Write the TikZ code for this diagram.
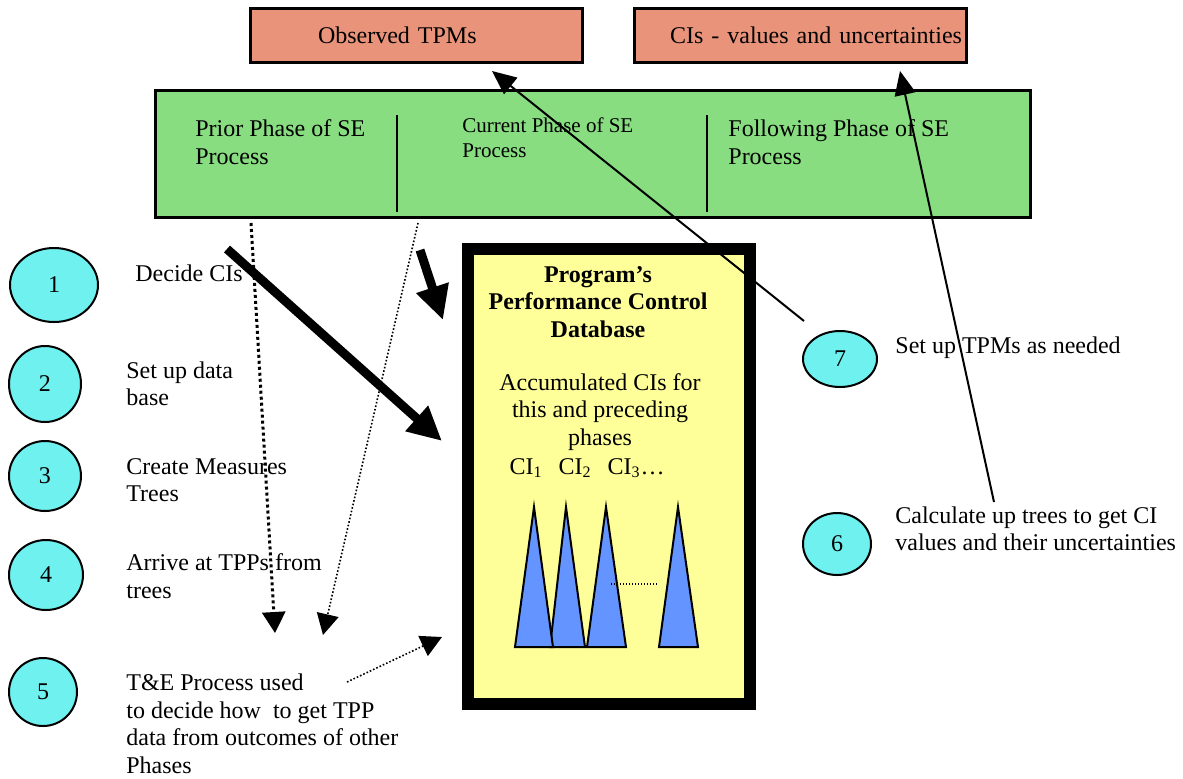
\documentclass[tikz,border=0pt]{standalone}
\usepackage{fontspec}
\setmainfont{Liberation Serif}
\usetikzlibrary{shapes.geometric,arrows.meta}
\definecolor{tpmred}{RGB}{233,148,122}
\definecolor{phasegreen}{RGB}{135,221,128}
\definecolor{dbyellow}{RGB}{255,255,153}
\definecolor{stepcyan}{RGB}{111,241,240}
\definecolor{treeblue}{RGB}{99,148,255}
\tikzset{
  stepnum/.style={ellipse, draw, line width=1pt, fill=stepcyan, inner sep=0pt, font=\fontsize{12}{14}\selectfont},
  note/.style={anchor=west, align=left, inner sep=0pt, font=\fontsize{12}{13.75}\selectfont},
  topbox/.style={draw, line width=1.5pt, fill=tpmred, minimum width=166pt, minimum height=27pt, font=\fontsize{12}{14}\selectfont},
  tree/.style={draw, line width=1pt, fill=treeblue},
  bigarrow/.style={line width=4.5pt, -{Triangle[length=17pt,width=16pt]}},
  thinarrow/.style={line width=1pt, -{Triangle[length=12pt,width=10.5pt]}},
  dotarrow/.style={line width=1.5pt, dash pattern=on 1.5pt off 1.5pt, -{Triangle[length=10.5pt,width=11.5pt]}},
  fineDot/.style={line width=0.8pt, dash pattern=on 0.8pt off 1pt, -{Triangle[length=10.5pt,width=11pt]}}
}
\begin{document}
\begin{tikzpicture}[x=0.5pt, y=-0.5pt]
    \useasboundingbox (0,0) rectangle (1183,778);
    %
    \node[topbox, text width=98pt, inner xsep=34pt, align=left] (obs) at (416,35) {Observed TPMs};
    \node[topbox, text width=162pt, inner xsep=2pt, align=right] (civals) at (800,35) {CIs - values and uncertainties};
    %
    \node[draw, line width=1.5pt, fill=phasegreen, minimum width=437.5pt, minimum height=63.5pt] (phases) at (592.5,153.5) {};
    \draw[line width=0.8pt] (397,115) -- (397,212);
    \draw[line width=0.8pt] (707,115) -- (707,212);
    \node[note] (prior) at (195,142) {Prior Phase of SE\\Process};
    \node[note, font=\fontsize{10.5}{12.5}\selectfont] (current) at (462,138) {Current Phase of SE\\Process};
    \node[note] (following) at (728,142) {Following Phase of SE\\Process};
    %
    \node[draw, line width=6pt, fill=dbyellow, minimum width=141pt, minimum height=227.5pt] (pcdb) at (609,476.5) {};
    \node[align=center, inner sep=0pt, font=\fontsize{12}{13.75}\selectfont\bfseries] (pcdbtitle) at (598,302) {Program’s\\Performance Control\\Database};
    \node[align=center, inner sep=0pt, font=\fontsize{12}{13.75}\selectfont] (accum) at (600,412) {Accumulated CIs for\\this and preceding\\phases};
    \node[inner sep=0pt, font=\fontsize{12}{14}\selectfont] (cilist) at (587,468) {CI\textsubscript{1}\hspace{8pt}CI\textsubscript{2}\hspace{8pt}CI\textsubscript{3}\ldots};
    \foreach \l/\a/\r in {550/566/585, 515/534/553, 587/606/626, 659/678/698}
        \draw[tree] (\l,647) -- (\a,507) -- (\r,647) -- cycle;
    \draw[line width=0.6pt, dash pattern=on 0.6pt off 0.9pt] (611,584) -- (658,584);
    %
    \node[stepnum, minimum width=44pt, minimum height=37pt] (s1) at (54,285) {1};
    \node[stepnum, minimum width=36pt, minimum height=38pt] (s2) at (45,384) {2};
    \node[stepnum, minimum width=36pt, minimum height=35pt] (s3) at (45,476) {3};
    \node[stepnum, minimum width=37pt, minimum height=35pt] (s4) at (46,575) {4};
    \node[stepnum, minimum width=34pt, minimum height=34pt] (s5) at (43,692) {5};
    \node[stepnum, minimum width=34pt, minimum height=31pt] (s6) at (837,544) {6};
    \node[stepnum, minimum width=37pt, minimum height=28pt] (s7) at (840,359) {7};
    %
    \node[note] (n1) at (135,273) {Decide CIs};
    \node[note] (n2) at (126,384) {Set up data\\base};
    \node[note] (n3) at (126,480) {Create Measures\\Trees};
    \node[note] (n4) at (126,576) {Arrive at TPPs from\\trees};
    \node[note] (n5) at (126,724) {T\&E Process used\\to decide how\ \ to get TPP\\data from outcomes of other\\Phases};
    \node[note] (n7) at (895,348) {Set up TPMs as needed};
    \node[note] (n6) at (895,529) {Calculate up trees to get CI\\values and their uncertainties};
    %
    \coordinate (d1s) at (251,223);
    \coordinate (d1e) at (275,633);
    \coordinate (d2s) at (418,223);
    \coordinate (d2e) at (323,635);
    \coordinate (d3s) at (347,682);
    \coordinate (d3e) at (442,637);
    \coordinate (b1s) at (227,249);
    \coordinate (b1e) at (442,441);
    \coordinate (b2s) at (420,250);
    \coordinate (b2e) at (443,320);
    \coordinate (t7s) at (804,321);
    \coordinate (t7e) at (492,71);
    \coordinate (t6s) at (994,502);
    \coordinate (t6e) at (900,71);
    %
    \draw[dotarrow] (d1s) -- (d1e);
    \draw[fineDot] (d2s) -- (d2e);
    \draw[fineDot] (d3s) -- (d3e);
    \draw[bigarrow] (b1s) -- (b1e);
    \draw[bigarrow] (b2s) -- (b2e);
    \draw[thinarrow] (t7s) -- (t7e);
    \draw[thinarrow] (t6s) -- (t6e);
    %
\end{tikzpicture}
\end{document}
